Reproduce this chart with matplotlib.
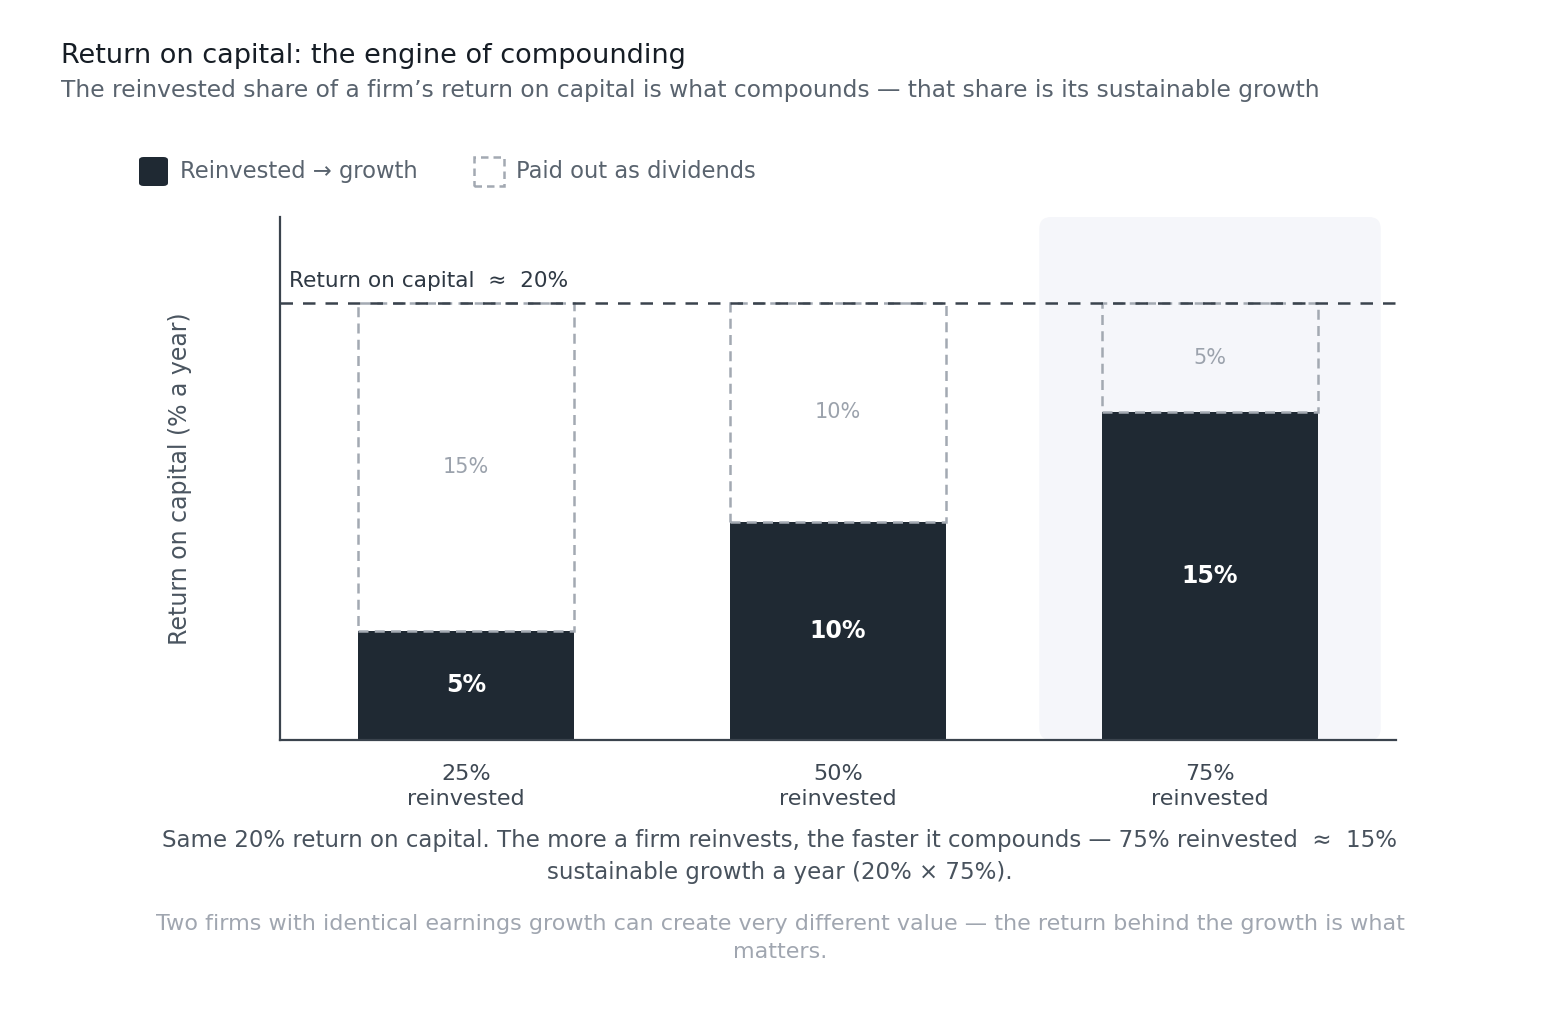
import matplotlib
matplotlib.use("Agg")
import matplotlib.pyplot as plt
from matplotlib.patches import FancyBboxPatch, Rectangle
import numpy as np

plt.rcParams['font.family'] = ['DejaVu Sans']

categories = ["25%\nreinvested", "50%\nreinvested", "75%\nreinvested"]
reinvested = [5, 10, 15]
paid_out = [15, 10, 5]
roc = 20
highlight_index = 2

DARK = "#1f2933"
GRAY = "#a3a9b2"
TEXT = "#3e4853"
SUB = "#59636e"
BAND = "#f5f6fa"

fig = plt.figure(figsize=(15.6, 10.18), dpi=100)
ax = fig.add_axes([280/1560, 1 - 740/1018, (1396-280)/1560, (740-217)/1018])

x = np.arange(len(categories))
width = 0.58
ymax = 23.94
ax.set_xlim(-0.5, len(categories) - 0.5)
ax.set_ylim(0, ymax)

# highlight band
band = FancyBboxPatch((highlight_index - 0.459, 0), 0.918, ymax,
                      boxstyle="round,pad=0,rounding_size=0.032",
                      mutation_aspect=17, facecolor=BAND, edgecolor='none',
                      zorder=0, clip_on=False)
ax.add_patch(band)

ax.bar(x, reinvested, width=width, color=DARK, zorder=2)
ax.bar(x, paid_out, width=width, bottom=reinvested, fill=False,
       edgecolor=GRAY, linestyle=(0, (4, 2.5)), linewidth=1.8, zorder=3)

ax.axhline(roc, color="#3a434d", linestyle=(0, (5, 4)), linewidth=1.8, zorder=4)
ax.text(-0.475, roc + 0.55, "Return on capital  \u2248  20%", fontsize=15.6,
        color="#2f3944", ha='left', va='bottom')

for xi, r, p in zip(x, reinvested, paid_out):
    ax.text(xi, r / 2, f"{r}%", ha='center', va='center', color='white',
            fontsize=17, fontweight='bold', zorder=5)
    ax.text(xi, r + p / 2, f"{p}%", ha='center', va='center', color="#9ba2ac",
            fontsize=15, zorder=5)

ax.set_xticks(x)
ax.set_xticklabels(categories, fontsize=16, color=TEXT, linespacing=1.32)
ax.tick_params(axis='x', length=0, pad=17)
ax.set_yticks([])
for s in ['top', 'right']:
    ax.spines[s].set_visible(False)
for s in ['left', 'bottom']:
    ax.spines[s].set_color("#3a434d")
    ax.spines[s].set_linewidth(1.6)

fig.text(180/1560, 1 - 479/1018, "Return on capital (% a year)", rotation=90,
         ha='center', va='center', fontsize=17, color="#4a5560")

fig.text(61/1560, 1 - 56/1018, "Return on capital: the engine of compounding",
         ha='left', va='center', fontsize=19.5, color="#161d25")
fig.text(61/1560, 1 - 91/1018,
         "The reinvested share of a firm\u2019s return on capital is what compounds \u2014 that share is its sustainable growth",
         ha='left', va='center', fontsize=16.8, color=SUB)

# legend
leg1 = FancyBboxPatch((139/1560, 1 - 186/1018), 29/1560, 29/1018,
                      boxstyle="round,pad=0,rounding_size=0.003",
                      transform=fig.transFigure, facecolor=DARK, edgecolor='none')
fig.patches.append(leg1)
fig.text(180/1560, 1 - 171/1018, "Reinvested \u2192 growth", ha='left', va='center',
         fontsize=16.3, color=SUB)
leg2 = Rectangle((474/1560, 1 - 186/1018), 30/1560, 29/1018,
                 transform=fig.transFigure, fill=False, edgecolor=GRAY,
                 linestyle=(0, (3, 2)), linewidth=1.8)
fig.patches.append(leg2)
fig.text(516/1560, 1 - 171/1018, "Paid out as dividends", ha='left', va='center',
         fontsize=16.3, color=SUB)

fig.text(780/1560, 1 - 857/1018,
         "Same 20% return on capital. The more a firm reinvests, the faster it compounds \u2014 75% reinvested  \u2248  15%\nsustainable growth a year (20% \u00d7 75%).",
         ha='center', va='center', fontsize=16.5, color="#48525d", linespacing=1.5)
fig.text(780/1560, 1 - 938/1018,
         "Two firms with identical earnings growth can create very different value \u2014 the return behind the growth is what\nmatters.",
         ha='center', va='center', fontsize=16, color="#a0a6b0", linespacing=1.5)

fig.savefig("out.png", dpi=100)
